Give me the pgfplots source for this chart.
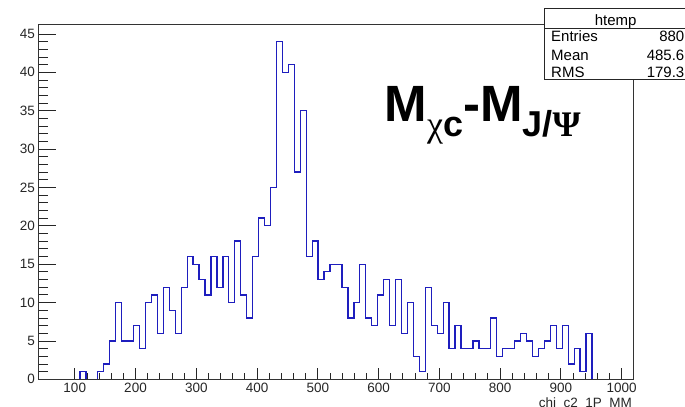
\documentclass[border=0pt]{standalone}
\usepackage{fontspec}
\setmainfont{Liberation Sans}
\newfontfamily\greekfont{Liberation Serif}
\usepackage{pgfplots}
\pgfplotsset{compat=1.18}
\usetikzlibrary{calc}
\definecolor{histblue}{RGB}{30,30,190}
\pgfplotstableread{
x y
108.6 0
108.6 1
118.4 0
128.2 0
138 1
147.8 2
157.6 5
167.4 10
177.2 5
187 5
196.8 7
206.6 4
216.4 10
226.2 11
236 6
245.8 12
255.6 9
265.4 6
275.2 12
285 16
294.8 15
304.6 13
314.4 11
324.2 16
334 12
343.8 16
353.6 10
363.4 18
373.2 11
383 8
392.8 16
402.6 21
412.4 20
422.2 25
432 44
441.8 40
451.6 41
461.4 27
471.2 35
481 16
490.8 18
500.6 13
510.4 14
520.2 15
530 15
539.8 12
549.6 8
559.4 10
569.2 15
579 8
588.8 7
598.6 11
608.4 13
618.2 7
628 13
637.8 6
647.6 10
657.4 3
667.2 1
677 12
686.8 7
696.6 6
706.4 10
716.2 4
726 7
735.8 4
745.6 4
755.4 5
765.2 4
775 4
784.8 8
794.6 3
804.4 4
814.2 4
824 5
833.8 6
843.6 5
853.4 3
863.2 4
873 5
882.8 7
892.6 4
902.4 7
912.2 2
922 4
931.8 1
941.6 6
951.4 0
}\histdata
\begin{document}
\begin{tikzpicture}
\pgfplotsset{
  rootaxis/.style={
    scale only axis,
    width=595.4bp, height=354.6bp,
    xmin=40, xmax=1020, ymin=0, ymax=46.2,
    axis on top, tick align=inside,
    xtick pos=bottom, ytick pos=left,
    axis line style={black!80, line width=0.9bp},
    every tick/.style={black!85, line width=0.8bp},
    every minor tick/.style={black!85, line width=0.8bp},
    ticklabel style={font=\fontsize{13.5bp}{14bp}\selectfont, text=black!85},
    /pgf/number format/assume math mode=true,
    /pgf/number format/1000 sep={},
  }
}
\begin{axis}[rootaxis, name=ax,
  xtick={100,200,...,1000}, minor x tick num=4,
  ytick=\empty,
  major tick length=11bp, minor tick length=6.5bp]
\addplot[const plot mark left, draw=histblue, line width=1.3bp, line join=miter, mark=none] table[x=x,y=y]{\histdata};
\end{axis}
\begin{axis}[rootaxis, at={(ax.south west)}, anchor=south west,
  xtick=\empty,
  ytick={0,5,...,45}, minor y tick num=4,
  major tick length=18bp, minor tick length=9.3bp]
\end{axis}
\begin{scope}[x=1bp, y=1bp, shift={($(ax.south west)+(-38.3bp,-26.7bp)$)}]
% x axis title (partly cut at the bottom)
\node[anchor=north east, inner sep=0, font=\fontsize{13.5bp}{14bp}\selectfont, text=black!85] at (632,8.5) {chi\_c2\_1P\_MM};
% stats box
\filldraw[fill=white, draw=black!85, line width=0.9bp] (544.3,326.7) rectangle (690,397.7);
\draw[black!85, line width=0.9bp] (544.3,377.7) -- (690,377.7);
\begin{scope}[every node/.style={inner sep=0, font=\fontsize{15bp}{15bp}\selectfont}]
\node[anchor=base] at (615.7,381) {htemp};
\node[anchor=base west] at (551,364.3) {Entries};
\node[anchor=base east] at (684.5,364.3) {880};
\node[anchor=base west] at (551,346) {Mean};
\node[anchor=base east] at (684.5,346) {485.6};
\node[anchor=base west] at (551,328.7) {RMS};
\node[anchor=base east] at (684.5,328.7) {179.3};
\end{scope}
% big label
\node[anchor=base west, inner sep=0] at (384.5,284.3) {\fontsize{51bp}{51bp}\selectfont\bfseries M\raisebox{-15bp}{\fontsize{36bp}{36bp}\selectfont{\greekfont\mdseries χ}c}-M\raisebox{-15bp}{\fontsize{36bp}{36bp}\selectfont J/{\greekfont\bfseries Ψ}}};
\pgfresetboundingbox
\useasboundingbox (0,0) rectangle (685,406);
\end{scope}
\end{tikzpicture}
\end{document}
